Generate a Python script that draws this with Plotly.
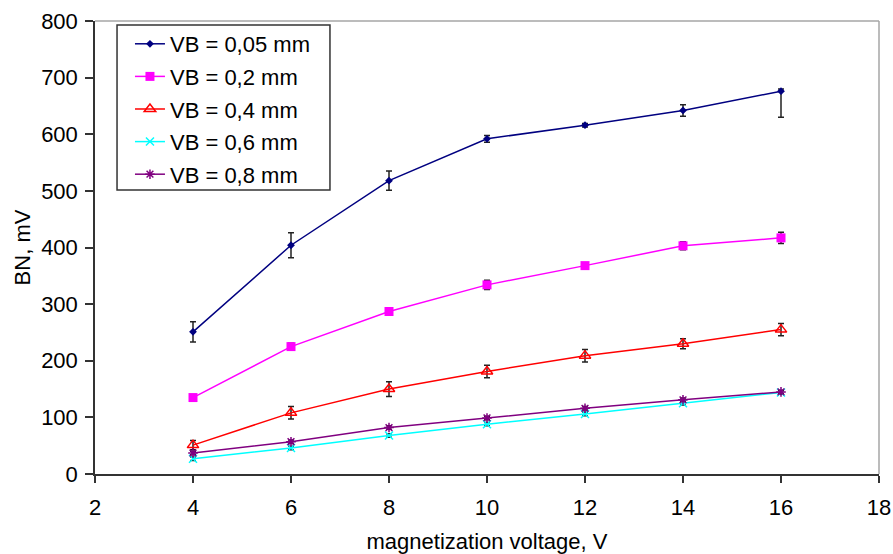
import plotly.graph_objects as go

x = [4, 6, 8, 10, 12, 14, 16]
names = ["VB = 0,05 mm", "VB = 0,2 mm", "VB = 0,4 mm", "VB = 0,6 mm", "VB = 0,8 mm"]

vb005 = [251, 404, 518, 592, 616, 642, 676]
vb005_plus = [18, 22, 17, 6, 3, 10, 4]
vb005_minus = [18, 22, 17, 6, 3, 10, 46]

vb02 = [135, 225, 287, 334, 368, 403, 417]
vb02_err = [5, 6, 6, 8, 4, 7, 10]

vb04 = [51, 108, 150, 181, 209, 230, 255]
vb04_err = [8, 11, 13, 11, 11, 9, 11]

vb06 = [27, 46, 68, 88, 106, 125, 144]
vb06_err = [3, 3, 3, 3, 3, 3, 3]

vb08 = [37, 57, 82, 99, 116, 131, 145]
vb08_err = [3, 3, 3, 3, 3, 3, 3]

err_style = dict(color="#222222", thickness=1.5, width=3)

fig = go.Figure()
series = [
    (vb005, vb005_plus, vb005_minus, "#000080", dict(symbol="diamond", size=6, color="#000080")),
    (vb02, vb02_err, vb02_err, "#FF00FF", dict(symbol="square", size=9, color="#FF00FF")),
    (vb04, vb04_err, vb04_err, "#FF0000", dict(symbol="triangle-up-open", size=10, color="#FF0000", line=dict(width=1.5))),
    (vb06, vb06_err, vb06_err, "#00FFFF", dict(symbol="x-thin-open", size=8, color="#00FFFF", line=dict(width=1.5, color="#00FFFF"))),
    (vb08, vb08_err, vb08_err, "#800080", dict(symbol="asterisk-open", size=8, color="#800080", line=dict(width=1.5, color="#800080"))),
]
for i, (ys, ep, em, col, mk) in enumerate(series):
    fig.add_trace(go.Scatter(
        x=x, y=ys, name=names[i], mode="lines+markers",
        line=dict(color=col, width=1.5), marker=mk,
        legendgroup=f"g{i}",
        error_y=dict(type="data", symmetric=False, array=ep, arrayminus=em, **err_style),
    ))

# gray frame on top and right of plot area
fig.add_shape(type="line", xref="paper", yref="paper", x0=0, x1=1, y0=1, y1=1,
              line=dict(color="#A6A6A6", width=1.5))
fig.add_shape(type="line", xref="paper", yref="paper", x0=1, x1=1, y0=0, y1=1,
              line=dict(color="#A6A6A6", width=1.5))
# legend frame
fig.add_shape(type="rect", xref="paper", yref="paper", x0=0.0281, x1=0.2997, y0=0.627, y1=0.991,
              line=dict(color="#333333", width=1.5), fillcolor="white", layer="above")

fig.update_layout(
    width=893, height=554,
    margin=dict(l=95, r=14, t=21, b=80, autoexpand=False),
    paper_bgcolor="white", plot_bgcolor="white",
    font=dict(family="Liberation Sans, Arial", size=22, color="black"),
    showlegend=True,
    legend=dict(x=0.0446, y=0.9956, xanchor="left", yanchor="top",
                borderwidth=0, bgcolor="rgba(0,0,0,0)",
                font=dict(size=22), tracegroupgap=1),
    xaxis=dict(range=[2, 18], tickmode="array", tickvals=list(range(2, 19, 2)),
               showline=True, linecolor="#333333", linewidth=1.5, ticks="outside",
               ticklen=7, tickcolor="#333333", tickwidth=1.5, showgrid=False, zeroline=False,
               ticklabelstandoff=6,
               title=dict(text="magnetization voltage, V", standoff=14, font=dict(size=22))),
    yaxis=dict(range=[0, 800], tickmode="array", tickvals=list(range(0, 801, 100)),
               showline=True, linecolor="#333333", linewidth=1.5, ticks="outside",
               ticklen=8, tickcolor="#333333", tickwidth=1.5, showgrid=False, zeroline=False,
               ticklabelstandoff=3,
               title=dict(text="BN, mV", standoff=4, font=dict(size=22))),
)

fig.write_html("out.html", config={"displayModeBar": False},
               post_script="document.body.style.margin='0';document.body.style.overflow='hidden';")
